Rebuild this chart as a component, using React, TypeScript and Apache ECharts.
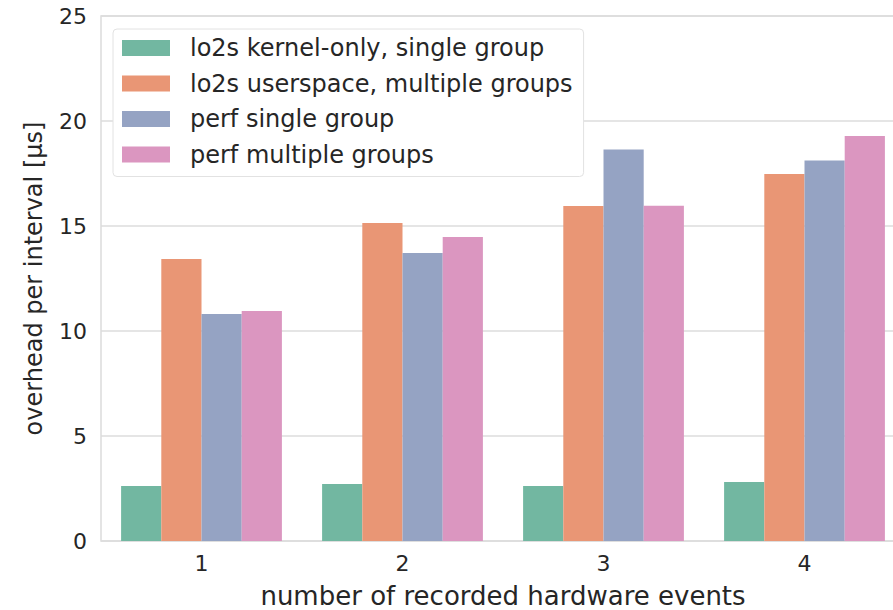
import React, { useEffect, useRef } from "react";
import * as echarts from "echarts";

const categories = ["1", "2", "3", "4"];
const seriesNames = [
  "lo2s kernel-only, single group",
  "lo2s userspace, multiple groups",
  "perf single group",
  "perf multiple groups",
];
const kernelSingle = [2.62, 2.71, 2.62, 2.81];
const userMultiple = [13.43, 15.14, 15.95, 17.48];
const perfSingle = [10.81, 13.71, 18.64, 18.12];
const perfMultiple = [10.95, 14.48, 15.97, 19.29];
const seriesColors = ["#72b7a1", "#e99675", "#95a3c3", "#db96c0"];

const FONT = "DejaVu Sans";
const TEXT = "#262626";

export default function App() {
  const ref = useRef<HTMLDivElement>(null);
  useEffect(() => {
    if (!ref.current) return;
    const chart = echarts.init(ref.current, undefined, { renderer: "svg" });
    const values = [kernelSingle, userMultiple, perfSingle, perfMultiple];
    chart.setOption({
      animation: false,
      backgroundColor: "#ffffff",
      textStyle: { fontFamily: FONT, color: TEXT },
      grid: {
        left: 101,
        top: 16,
        width: 804,
        height: 525,
        outerBoundsMode: "none",
        containLabel: false,
        show: true,
        borderColor: "#dcdcdc",
        borderWidth: 1.5,
        backgroundColor: "transparent",
      },
      legend: {
        orient: "vertical",
        left: 113,
        top: 29,
        data: seriesNames,
        itemWidth: 48,
        itemHeight: 16,
        itemGap: 11.5,
        padding: [7, 11, 10, 9],
        backgroundColor: "#ffffff",
        borderColor: "#e2e2e2",
        borderWidth: 1,
        borderRadius: 4,
        icon: "rect",
        textStyle: {
          fontFamily: FONT,
          fontSize: 24,
          color: TEXT,
          lineHeight: 24,
          padding: [0, 0, 0, 15],
        },
      },
      xAxis: {
        type: "category",
        data: categories,
        name: "number of recorded hardware events",
        nameLocation: "middle",
        nameGap: 42,
        nameTextStyle: { fontFamily: FONT, fontSize: 26, color: TEXT, lineHeight: 26 },
        axisLine: { show: false },
        axisTick: { show: false },
        axisLabel: { fontFamily: FONT, fontSize: 22, color: TEXT, margin: 11 },
      },
      yAxis: {
        type: "value",
        min: 0,
        max: 25,
        interval: 5,
        name: "overhead per interval [µs]",
        nameLocation: "middle",
        nameGap: 55,
        nameTextStyle: { fontFamily: FONT, fontSize: 24, color: TEXT },
        axisLine: { show: false },
        axisTick: { show: false },
        axisLabel: { fontFamily: FONT, fontSize: 22, color: TEXT, margin: 14 },
        splitLine: { show: true, lineStyle: { color: "#dcdcdc", width: 1.5 } },
      },
      series: seriesNames.map((name, i) => ({
        name,
        type: "bar",
        data: values[i],
        barGap: "0%",
        barCategoryGap: "20%",
        itemStyle: { color: seriesColors[i] },
      })),
    });
    return () => chart.dispose();
  }, []);
  return (
    <div
      ref={ref}
      style={{ position: "fixed", left: 0, top: 0, width: 893, height: 610 }}
    />
  );
}
